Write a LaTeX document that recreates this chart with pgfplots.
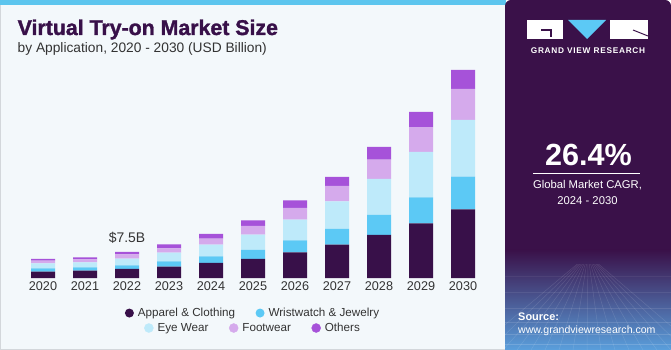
\documentclass[border=0pt]{standalone}
\usepackage{pgfplots}
\pgfplotsset{compat=1.18}
\usepackage{pgfplotstable}
\usepackage{fontspec}
\setmainfont{Liberation Sans}
\newfontfamily\gvrfont[LetterSpace=9]{Liberation Sans}
\newfontfamily\titlefont[FakeBold=1.6]{Liberation Sans Bold}
\definecolor{apparel}{HTML}{381049}
\definecolor{wrist}{HTML}{5CC9F5}
\definecolor{eye}{HTML}{BEEAFA}
\definecolor{foot}{HTML}{D5AAEC}
\definecolor{others}{HTML}{A652D9}
\definecolor{panel}{HTML}{3A1149}
\definecolor{bgc}{HTML}{F3F8FB}
\definecolor{strip}{HTML}{5CC5EE}
\definecolor{txt}{HTML}{333333}
\definecolor{bord}{HTML}{D3D7DB}
\definecolor{bluebot}{HTML}{5A9FDC}

\pgfplotstableread{
x A W E F O
0 1.82 0.95 1.44 0.78 0.49
1 2.11 0.95 1.44 0.87 0.58
2 2.60 1.04 1.93 1.24 0.69
3 3.26 1.53 2.51 1.24 1.15
4 4.33 1.90 3.38 1.73 1.36
5 5.48 2.60 4.41 2.51 1.62
6 7.39 3.46 5.97 3.38 2.19
7 9.61 4.53 7.96 4.44 2.60
8 12.41 5.77 10.39 5.57 3.66
9 15.78 7.50 13.10 7.10 4.44
10 19.82 9.41 16.36 8.94 5.48
}\datatable

\begin{document}
\begin{tikzpicture}
\useasboundingbox (0bp,0bp) rectangle (671bp,350bp);
% left panel
\fill[bgc] (0bp,0bp) rectangle (506bp,350bp);
\fill[strip] (0bp,345bp) rectangle (506bp,350bp);
\draw[bord,line width=1.2bp] (0.6bp,0bp) -- (0.6bp,345bp);
\draw[bord,line width=1.2bp] (0bp,0.6bp) -- (506bp,0.6bp);
% right panel
\fill[panel,rounded corners=6bp] (505bp,0bp) rectangle (671bp,350bp);
\shade[top color=panel,bottom color=bluebot] (505bp,0bp) rectangle (671bp,100bp);
\begin{scope}
\clip (505bp,0bp) rectangle (671bp,85bp);
\foreach \i in {0,...,16} {
  \pgfmathsetmacro\xx{475+\i*14}
  \draw[white,opacity=0.12,line width=0.5bp] (588bp,95bp) -- (\xx bp,0bp);
}
\foreach \y/\o in {6/0.16,16/0.14,28/0.12,42/0.1,58/0.08,74/0.06} {
  \draw[white,opacity=\o,line width=0.5bp] (505bp,\y bp) -- (671bp,\y bp);
}
\end{scope}
% logo
\fill[white] (527bp,311bp) rectangle (563bp,330bp);
\draw[panel,line width=1.2bp] (541bp,320bp) -- (551bp,320bp) -- (551bp,313bp);
\fill[wrist] (568bp,330bp) -- (606bp,330bp) -- (587bp,311bp) -- cycle;
\fill[white] (610bp,311bp) rectangle (648bp,330bp);
\draw[panel,line width=1bp] (633bp,320bp) -- (648bp,314bp);
\node[white,font=\gvrfont\bfseries\fontsize{8.3}{9}\selectfont,anchor=center] at (588bp,299.5bp) {GRAND VIEW RESEARCH};
\node[white,font=\bfseries\fontsize{30.7}{32}\selectfont,anchor=base] at (588.5bp,184bp) {26.4\%};
\draw[white,line width=0.8bp] (533bp,177bp) -- (640bp,177bp);
\node[white,font=\fontsize{11.3}{13}\selectfont,anchor=base] at (587.5bp,161bp) {Global Market CAGR,};
\node[white,font=\fontsize{11.3}{13}\selectfont,anchor=base] at (587.5bp,145bp) {2024 - 2030};
\node[white,font=\bfseries\fontsize{11}{12}\selectfont,anchor=base west,inner sep=0] at (518bp,30bp) {Source:};
\node[white,font=\fontsize{10.6}{12}\selectfont,anchor=base west,inner sep=0] at (518bp,17bp) {www.grandviewresearch.com};
% titles
\node[apparel,font=\titlefont\fontsize{21.4}{24}\selectfont,anchor=base west,inner sep=0] at (17.5bp,315bp) {Virtual Try-on Market Size};
\node[txt,font=\fontsize{13.8}{16}\selectfont,anchor=base west,inner sep=0] at (17.5bp,297.5bp) {by Application, 2020 - 2030 (USD Billion)};

\begin{axis}[
  at={(22bp,72bp)}, anchor=south west,
  scale only axis, width=462bp, height=215bp,
  xmin=-0.5, xmax=10.5, ymin=0, ymax=62,
  ybar stacked, bar width=24bp,
  axis line style={draw=none},
  major tick length=0pt,
  ytick=\empty,
  xtick={0,...,10},
  xticklabels={2020,2021,2022,2023,2024,2025,2026,2027,2028,2029,2030},
  xticklabel style={font=\fontsize{12.7}{14}\selectfont, text=txt, yshift=-0.5bp},
  clip=false,
  legend columns=2,
  legend cell align=left,
  legend style={at={(0.5,-0.163)}, anchor=center, draw=none, fill=none,
    font=\fontsize{11.7}{13}\selectfont, text=txt,
    /tikz/every even column/.append style={column sep=18.5bp}},
]
\addplot[fill=apparel, draw=none, legend image code/.code={\fill[apparel] (0bp,0bp) circle (4.5bp); \path (6.5bp,0bp);}] table[x=x,y=A] {\datatable};
\addplot[fill=wrist, draw=none, legend image code/.code={\fill[wrist] (0bp,0bp) circle (4.5bp); \path (6.5bp,0bp);}] table[x=x,y=W] {\datatable};
\addplot[fill=eye, draw=none] table[x=x,y=E] {\datatable};
\addplot[fill=foot, draw=none] table[x=x,y=F] {\datatable};
\addplot[fill=others, draw=none] table[x=x,y=O] {\datatable};
\legend{Apparel \& Clothing, Wristwatch \& Jewelry}
\node[anchor=south, inner sep=0, text=txt, font=\fontsize{14}{16}\selectfont, yshift=8bp] at (axis cs:2,7.5) {\$7.5B};
\end{axis}

\begin{axis}[
  at={(22bp,72bp)}, anchor=south west,
  scale only axis, width=462bp, height=215bp,
  xmin=0, xmax=1, ymin=0, ymax=1,
  hide axis,
  legend columns=3,
  legend cell align=left,
  legend style={at={(0.5,-0.2326)}, anchor=center, draw=none, fill=none,
    font=\fontsize{11.7}{13}\selectfont, text=txt,
    /tikz/every even column/.append style={column sep=18.5bp}},
]
\addlegendimage{legend image code/.code={\fill[eye] (0bp,0bp) circle (4.5bp); \path (6.5bp,0bp);}}
\addlegendentry{Eye Wear}
\addlegendimage{legend image code/.code={\fill[foot] (0bp,0bp) circle (4.5bp); \path (6.5bp,0bp);}}
\addlegendentry{Footwear}
\addlegendimage{legend image code/.code={\fill[others] (0bp,0bp) circle (4.5bp); \path (6.5bp,0bp);}}
\addlegendentry{Others}
\end{axis}
\end{tikzpicture}
\end{document}
